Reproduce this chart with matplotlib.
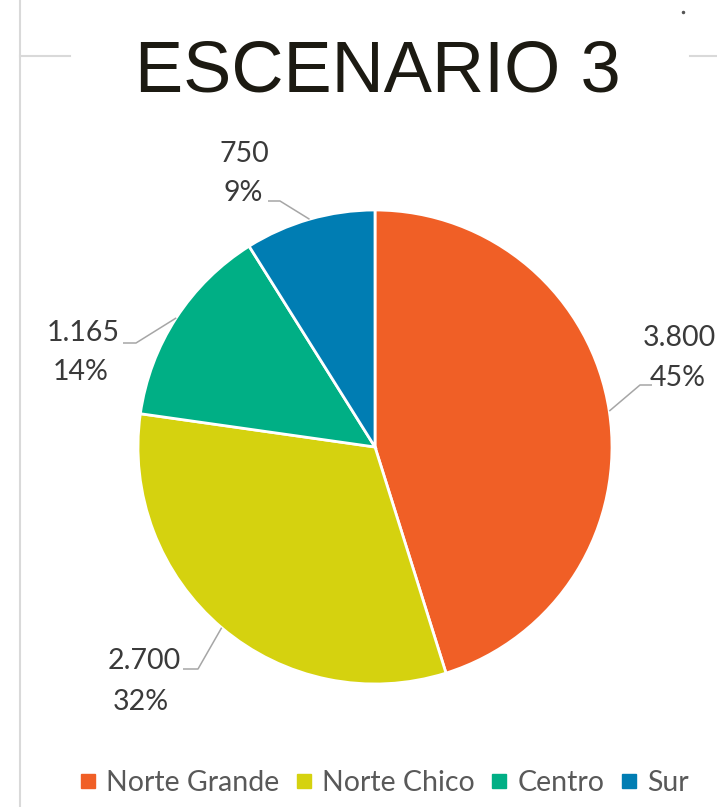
import matplotlib
matplotlib.use("Agg")
import matplotlib.pyplot as plt
from matplotlib.lines import Line2D
import numpy as np

# Data
regions = ["Norte Grande", "Norte Chico", "Centro", "Sur"]
values = [3800, 2700, 1165, 750]
colors = ["#F05F26", "#D5D20F", "#00AF85", "#007DB3"]
title = "ESCENARIO 3"

W, H, DPI = 717, 807, 100
fig = plt.figure(figsize=(W / DPI, H / DPI), dpi=DPI)
fig.patch.set_facecolor("white")

# Pie axes (center at 375,447 px, radius 237 px)
cx, cy, r = 375, 447, 237
ax = fig.add_axes([(cx - r) / W, (H - cy - r) / H, 2 * r / W, 2 * r / H])
wedges, _ = ax.pie(values, colors=colors, startangle=90, counterclock=False,
                   radius=1.0, wedgeprops=dict(edgecolor="white", linewidth=2.0))
ax.set_xlim(-1, 1)
ax.set_ylim(-1, 1)
ax.set_aspect("equal")
ax.axis("off")


def px2data(px, py):
    return (px - cx) / r, (cy - py) / r


total = sum(values)
label_font = dict(family=["Lato", "DejaVu Sans"], fontsize=20.5, color="#3A3A3A")

# Label placement (line 1 center, line 2 center, leader elbow start, elbow end)
placements = [
    ((679, 338), (678, 378), (652, 385), (640, 385)),
    ((144, 661), (141, 702), (183, 669), (198, 669)),
    ((83, 333), (81, 372), (123, 343), (136, 343)),
    ((244, 154), (243, 193), (268, 201), (280, 201)),
]

angle = 90.0
for v, (p1, p2, e1, e2) in zip(values, placements):
    sweep = v / total * 360.0
    mid = np.deg2rad(angle - sweep / 2)
    angle -= sweep
    ex, ey = np.cos(mid), np.sin(mid)
    val_txt = f"{v:,}".replace(",", ".")
    pct_txt = f"{round(v / total * 100)}%"
    x1, y1 = px2data(*p1)
    x2, y2 = px2data(*p2)
    ax.text(x1, y1, val_txt, ha="center", va="center", clip_on=False, **label_font)
    ax.text(x2, y2, pct_txt, ha="center", va="center", clip_on=False, **label_font)
    a1 = px2data(*e1)
    a2 = px2data(*e2)
    ax.plot([a1[0], a2[0], ex], [a1[1], a2[1], ey], color="#A6A6A6",
            linewidth=1.1, clip_on=False, solid_capstyle="butt")

# Title
fig.text(378 / W, 1 - 92 / H, title, ha="center", va="baseline",
         fontsize=52, family=["Liberation Sans", "DejaVu Sans"], color="#1C1A12")

# Frame lines around the chart area
fig.add_artist(Line2D([20 / W, 20 / W], [0, 1], color="#D9D9D9", linewidth=1.5))
fig.add_artist(Line2D([20 / W, 70 / W], [1 - 56 / H, 1 - 56 / H], color="#D9D9D9", linewidth=1.5))
fig.add_artist(Line2D([690 / W, 1], [1 - 56 / H, 1 - 56 / H], color="#D9D9D9", linewidth=1.5))
fig.add_artist(Line2D([683 / W], [1 - 12 / H], marker="o", markersize=1.5,
                      color="#555555", linestyle="none"))

# Legend
handles = [Line2D([], [], marker="s", linestyle="none", markersize=9.5,
                  markerfacecolor=c, markeredgecolor=c) for c in colors]
leg = fig.legend(handles, regions, loc="center", bbox_to_anchor=(384 / W, 1 - 783 / H),
                 ncol=4, frameon=False, handlelength=0.6, handletextpad=0.35,
                 columnspacing=0.55,
                 prop=dict(family=["Lato", "DejaVu Sans"], size=20.5))
for t in leg.get_texts():
    t.set_color("#595959")

fig.savefig("out.png", dpi=DPI, facecolor="white")
